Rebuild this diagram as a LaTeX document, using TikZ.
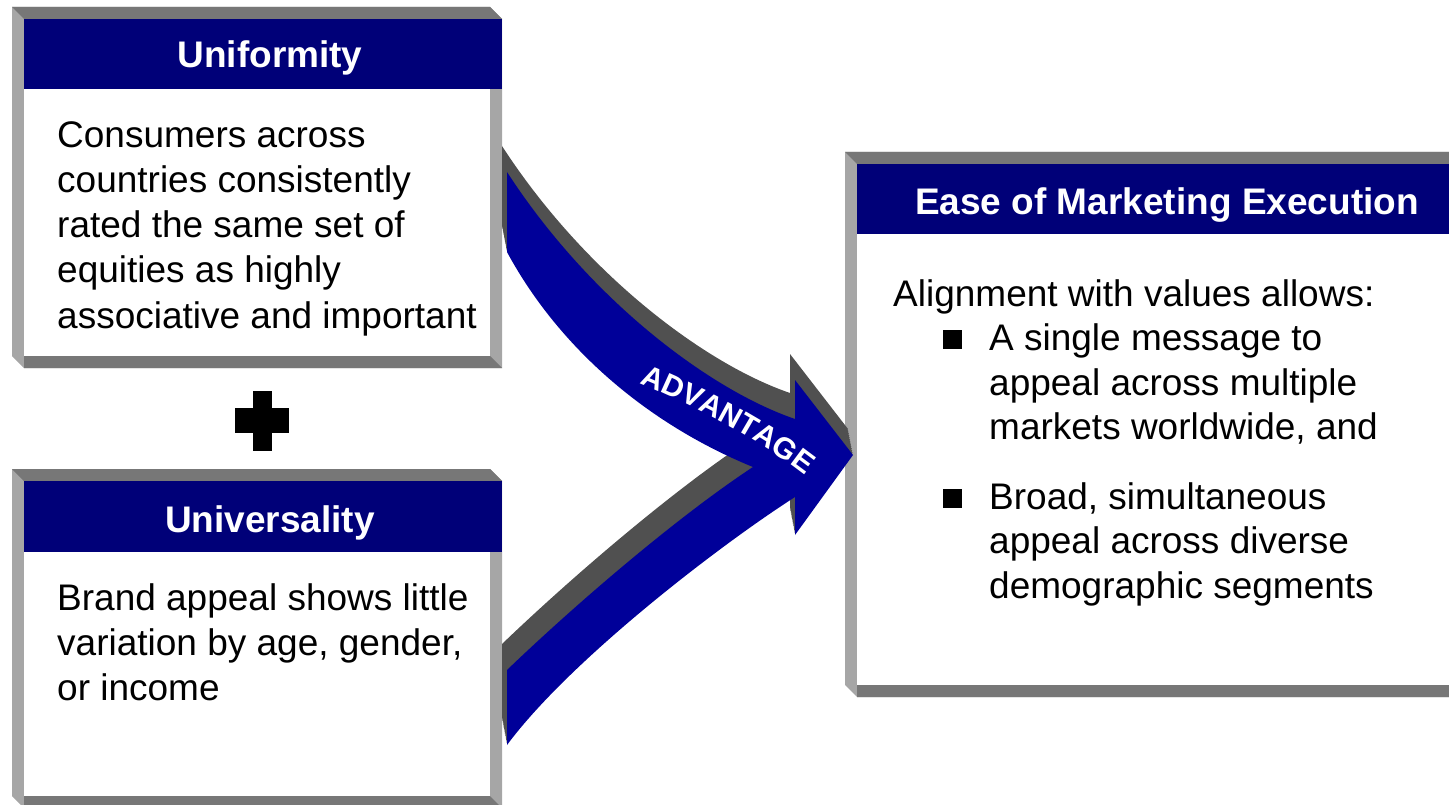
\documentclass[tikz,border=0pt]{standalone}
\usepackage{fontspec}
\setmainfont{Liberation Sans}
\usetikzlibrary{decorations.text}
\definecolor{hdr}{HTML}{000078}
\definecolor{arrowblue}{HTML}{000099}
\definecolor{shadowgray}{HTML}{505050}
\definecolor{bevdark}{HTML}{777777}
\definecolor{bevlight}{HTML}{A6A6A6}
\newcommand\bevelbox[5]{%
 \fill[bevlight] (#1,#2) -- ({#3-12},#2) -- (#3,{#2+12}) -- (#3,#4) -- ({#1+12},#4) -- (#1,{#4-12}) -- cycle;
 \fill[bevdark] (#1,#2) -- ({#3-12},#2) -- (#3,{#2+12}) -- ({#1+12},{#2+12}) -- cycle;
 \fill[bevdark] ({#1+12},{#4-12}) -- ({#3-12},{#4-12}) -- (#3,#4) -- ({#1+12},#4) -- cycle;
 \fill[white] ({#1+12},{#2+12}) rectangle ({#3-12},{#4-12});
 \fill[hdr] ({#1+12},{#2+12}) rectangle (#3,#5);
}
\newcommand\arrowshape{(507,172) .. controls (590,300) and (710,390) .. (795,419) -- (795,380) -- (853,455) -- (795,535) -- (795,497) .. controls (720,545) and (570,660) .. (507,745) -- (507,670) .. controls (580,600) and (680,515) .. (753,467) .. controls (650,425) and (560,350) .. (507,252) -- cycle}
\newcommand\advfont{\fontsize{30}{30}\selectfont\bfseries}
\begin{document}
\begin{tikzpicture}[x=1pt,y=-1pt,
  body/.style={anchor=base west, inner sep=0pt, font=\fontsize{37}{45}\selectfont},
  head/.style={anchor=base, inner sep=0pt, text=white, font=\fontsize{37}{45}\selectfont\bfseries},
  bulletsq/.style={fill=black, inner sep=0pt, minimum size=19pt}]
\useasboundingbox (0,0) rectangle (1449,805);
\clip (0,0) rectangle (1449,805);
\bevelbox{12}{7}{502}{368}{89}
\bevelbox{12}{469}{502}{808}{552}
\bevelbox{845}{152}{1490}{697}{234}
% headers
\node[head] (h1) at (270,68) {Uniformity};
\node[head] (h2) at (270,532) {Universality};
\node[head] (h3) at (1167,215) {Ease of Marketing Execution};
% box 1 text
\node[body] (u1) at (57,148) {Consumers across};
\node[body] (u2) at (57,193) {countries consistently};
\node[body] (u3) at (57,238) {rated the same set of};
\node[body] (u4) at (57,283) {equities as highly};
\node[body] (u5) at (57,328) {associative and important};
% box 2 text
\node[body] (v1) at (57,610) {Brand appeal shows little};
\node[body] (v2) at (57,655) {variation by age, gender,};
\node[body] (v3) at (57,700) {or income};
% box 3 text
\node[body] (e0) at (893,306) {Alignment with values allows:};
\node[bulletsq] (b1) at (952,339) {};
\node[body] (e1) at (989,350) {A single message to};
\node[body] (e2) at (989,395) {appeal across multiple};
\node[body] (e3) at (989,439) {markets worldwide, and};
\node[bulletsq] (b2) at (952,498) {};
\node[body] (e4) at (989,509) {Broad, simultaneous};
\node[body] (e5) at (989,553) {appeal across diverse};
\node[body] (e6) at (989,598) {demographic segments};
% plus
\fill[black] (253,391) rectangle (272,451);
\fill[black] (235,408) rectangle (289,433);
% arrow with extruded shadow
\foreach \i in {12,11,...,1} {
  \fill[shadowgray, shift={({-5*\i/12},{-26*\i/12})}] \arrowshape;
}
\fill[arrowblue] \arrowshape;
\path[decorate, decoration={text along path, text={|\advfont|ADVANTAGE}, text color=white, text align=center}]
  (636,382) .. controls (700,408) and (760,440) .. (808,478);
\end{tikzpicture}
\end{document}
